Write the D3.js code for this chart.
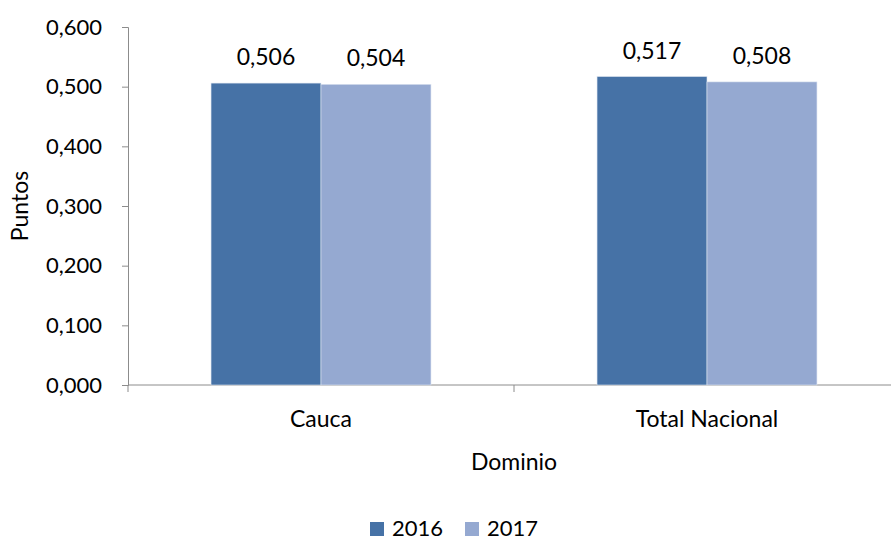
<!DOCTYPE html>
<html>
<head>
<meta charset="utf-8">
<script src="https://cdn.jsdelivr.net/npm/d3@7"></script>
<style>
  body { margin: 0; background: #fff; }
  text { font-family: "Lato", "Open Sans", sans-serif; fill: #000; }
</style>
</head>
<body>
<script>
/* ---- data ---- */
var categories = ["Cauca", "Total Nacional"];
var series = ["2016", "2017"];
var values2016 = [0.506, 0.517];
var values2017 = [0.504, 0.508];
var yTicks = [0, 0.1, 0.2, 0.3, 0.4, 0.5, 0.6];
var colors = ["#4672a6", "#95a9d1"];

var W = 891, H = 542;
var plotLeft = 128, plotRight = 900, plotTop = 27, plotBottom = 385;

var svg = d3.select("body").append("svg")
	.attr("width", W)
	.attr("height", H);

var x0 = d3.scaleBand().domain(categories).range([plotLeft, plotRight]);
var x1 = d3.scaleBand().domain(series)
	.range([0, x0.bandwidth()])
	.paddingOuter(0.755);
var y = d3.scaleLinear().domain([0, 0.6]).range([plotBottom, plotTop]);

var fmt = function(d) { return d3.format(".3f")(d).replace(".", ","); };

// y axis
var yAxis = svg.append("g")
	.attr("transform", "translate(" + plotLeft + ",0)")
	.call(d3.axisLeft(y).tickValues(yTicks).tickSize(6).tickPadding(20).tickFormat(fmt));
yAxis.select(".domain").attr("stroke", "#8c8c8c");
yAxis.selectAll(".tick line").attr("stroke", "#8c8c8c");
yAxis.selectAll(".tick text").attr("font-size", 22).attr("font-family", "Lato");

// x axis
var xAxis = svg.append("g")
	.attr("transform", "translate(0," + plotBottom + ")")
	.call(d3.axisBottom(x0).tickSize(0).tickPadding(26));
xAxis.select(".domain").attr("stroke", "#8c8c8c").attr("d", "M" + plotLeft + ",0H" + plotRight);
xAxis.selectAll(".tick text").attr("font-size", 23).attr("font-family", "Lato");
// category boundary ticks
svg.append("g").selectAll("line")
	.data([plotLeft, x0("Total Nacional"), plotRight])
	.enter().append("line")
	.attr("x1", function(d) { return d; })
	.attr("x2", function(d) { return d; })
	.attr("y1", plotBottom)
	.attr("y2", plotBottom + 7)
	.attr("stroke", "#8c8c8c");

// bars
var rows = categories.map(function(c, i) {
	return { cat: c, vals: [values2016[i], values2017[i]] };
});
var groups = svg.selectAll(".grp")
	.data(rows)
	.enter().append("g")
	.attr("class", "grp")
	.attr("transform", function(d) { return "translate(" + x0(d.cat) + ",0)"; });

groups.selectAll("rect")
	.data(function(d) { return d.vals.map(function(v, j) { return { s: series[j], v: v, j: j }; }); })
	.enter().append("rect")
	.attr("x", function(d) { return x1(d.s); })
	.attr("y", function(d) { return y(d.v); })
	.attr("width", x1.bandwidth())
	.attr("height", function(d) { return y(0) - y(d.v); })
	.attr("fill", function(d) { return colors[d.j]; })
	.attr("stroke", "#dfe6f1")
	.attr("stroke-width", 0.6);

groups.selectAll("text.lbl")
	.data(function(d) { return d.vals.map(function(v, j) { return { s: series[j], v: v }; }); })
	.enter().append("text")
	.attr("class", "lbl")
	.attr("x", function(d) { return x1(d.s) + x1.bandwidth() / 2; })
	.attr("y", function(d) { return y(d.v) - 18; })
	.attr("text-anchor", "middle")
	.attr("font-size", 23)
	.text(function(d) { return fmt(d.v); });

// axis titles
svg.append("text")
	.attr("transform", "translate(28," + ((plotTop + plotBottom) / 2) + ") rotate(-90)")
	.attr("text-anchor", "middle")
	.attr("font-size", 23)
	.text("Puntos");

svg.append("text")
	.attr("x", 514)
	.attr("y", 470)
	.attr("text-anchor", "middle")
	.attr("font-size", 23)
	.text("Dominio");

// legend
var legend = svg.append("g").selectAll("g")
	.data(series)
	.enter().append("g")
	.attr("transform", function(d, i) { return "translate(" + (370 + i * 95) + ",522)"; });
legend.append("rect")
	.attr("width", 14).attr("height", 14)
	.attr("fill", function(d, i) { return colors[i]; });
legend.append("text")
	.attr("x", 22).attr("y", 14)
	.attr("font-size", 22)
	.text(function(d) { return d; });
</script>
</body>
</html>
